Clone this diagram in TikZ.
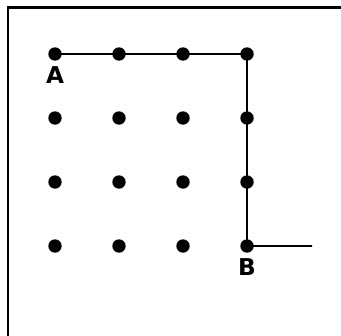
\documentclass[tikz,border=0pt]{standalone}
\usepackage{fontspec}
\setmainfont{DejaVu Sans}
\usepackage{tikz}
\usetikzlibrary{positioning}

\begin{document}
\begin{tikzpicture}[x=1cm,y=1cm,
    dot/.style={circle, fill=black, inner sep=0pt, minimum size=3.35mm},
    route/.style={line width=1.4pt, black},
    frm/.style={line width=1.9pt, black},
    lbl/.style={font=\fontsize{16.5}{19}\selectfont\bfseries, inner sep=0pt}]

  \useasboundingbox (-1.375,1.35) rectangle (7.15,-7.025);

  % -- the frame; only its top and left edges fall inside the page
  \draw[frm] (-1.175,-7.1) -- (-1.175,1.1625) -- (7.2,1.1625);

  % -- the 4x4 grid of dots, (i,j) with j counting rows downwards
  \foreach \i in {0,...,3}{
    \foreach \j in {0,...,3}{
      \node[dot] (d-\i-\j) at (1.6*\i,-1.6*\j) {};}}

  % -- the route from A round the corner to B and on
  \coordinate (tail) at (6.425,-4.8);
  \draw[route] (d-0-0.center) -- (d-3-0.center) -- (d-3-3.center) -- (tail);

  % -- labels under the two end dots
  \node[lbl, below=0.32cm of d-0-0.center] (labA) {A};
  \node[lbl, below=0.32cm of d-3-3.center] (labB) {B};
\end{tikzpicture}
\end{document}
